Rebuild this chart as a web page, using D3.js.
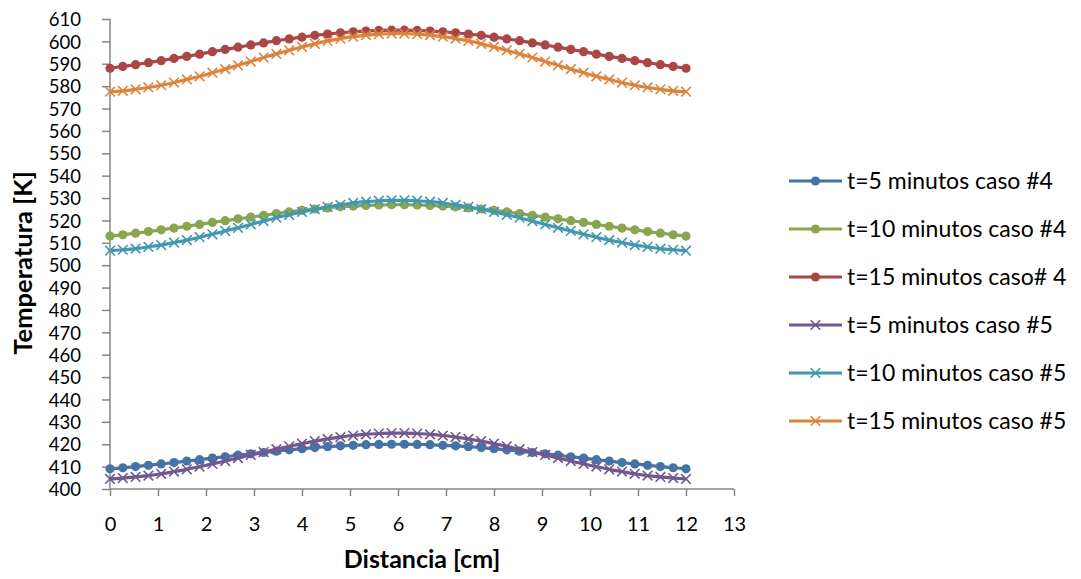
<!DOCTYPE html>
<html><head><meta charset="utf-8">
<script src="https://cdn.jsdelivr.net/npm/d3@7/dist/d3.min.js"></script>
<style>body{margin:0;background:#fff}svg{display:block}text{font-family:Lato,"Open Sans",sans-serif;fill:#000}</style>
</head><body><svg id="c" width="1081" height="579"></svg>
<script>
const nPoints = 46;
const xValues = d3.range(nPoints).map(i => i * 12 / 45);
const xTicks = [0,1,2,3,4,5,6,7,8,9,10,11,12,13];
const yTicks = d3.range(400, 611, 10);
const seriesNames = ["t=5 minutos caso #4","t=10 minutos caso #4","t=15 minutos caso# 4","t=5 minutos caso #5","t=10 minutos caso #5","t=15 minutos caso #5"];
const t5c4 = [409.0,409.5,410.0,410.6,411.2,411.8,412.5,413.1,413.8,414.4,415.1,415.7,416.3,416.9,417.5,418.0,418.5,418.9,419.3,419.5,419.8,419.9,420.0,
              420.0,419.9,419.8,419.5,419.3,418.9,418.5,418.0,417.5,416.9,416.3,415.7,415.1,414.4,413.8,413.1,412.5,411.8,411.2,410.6,410.0,409.5,409.0];
const t10c4 = [513.0,513.6,514.3,515.0,515.8,516.6,517.4,518.2,519.1,519.9,520.7,521.5,522.3,523.1,523.8,524.5,525.1,525.6,526.1,526.4,526.7,526.9,527.0,
               527.0,526.9,526.7,526.4,526.1,525.6,525.1,524.5,523.8,523.1,522.3,521.5,520.7,519.9,519.1,518.2,517.4,516.6,515.8,515.0,514.3,513.6,513.0];
const t15c4 = [588.0,588.8,589.6,590.5,591.4,592.4,593.3,594.3,595.4,596.4,597.4,598.4,599.3,600.3,601.1,601.9,602.7,603.3,603.8,604.3,604.6,604.9,605.0,
               605.0,604.9,604.6,604.3,603.8,603.3,602.7,601.9,601.1,600.3,599.3,598.4,597.4,596.4,595.4,594.3,593.3,592.4,591.4,590.5,589.6,588.8,588.0];
const t5c5 = [404.5,404.9,405.4,406.0,406.8,407.8,408.8,410.0,411.2,412.5,413.8,415.2,416.5,417.8,419.1,420.3,421.4,422.4,423.2,423.9,424.4,424.8,425.0,
              425.0,424.8,424.4,423.9,423.2,422.4,421.4,420.3,419.1,417.8,416.5,415.2,413.8,412.5,411.2,410.0,408.8,407.8,406.8,406.0,405.4,404.9,404.5];
const t10c5 = [506.5,506.9,507.4,508.2,509.0,510.1,511.2,512.5,513.8,515.3,516.7,518.2,519.7,521.2,522.5,523.8,525.0,526.1,527.0,527.8,528.4,528.8,529.0,
               529.0,528.8,528.4,527.8,527.0,526.1,525.0,523.8,522.5,521.2,519.7,518.2,516.7,515.3,513.8,512.5,511.2,510.1,509.0,508.2,507.4,506.9,506.5];
const t15c5 = [577.5,577.9,578.6,579.4,580.4,581.6,583.0,584.4,586.0,587.6,589.3,591.0,592.8,594.4,596.0,597.5,598.9,600.2,601.2,602.1,602.8,603.2,603.5,
               603.5,603.2,602.8,602.1,601.2,600.2,598.9,597.5,596.0,594.4,592.8,591.0,589.3,587.6,586.0,584.4,583.0,581.6,580.4,579.4,578.6,577.9,577.5];

const colors = ["#4572A7","#89A54E","#AA4643","#71588F","#4198AF","#DB843D"];
const markers = ["circle","circle","circle","x","x","x"];
const seriesData = [t5c4, t10c4, t15c4, t5c5, t10c5, t15c5];

const svg = d3.select("#c");
const x = d3.scaleLinear().domain([0,13]).range([110,734]);
const y = d3.scaleLinear().domain([400,610]).range([489,19]);
const axisColor = "#868686";
const FONT = "Lato, 'Open Sans', sans-serif";

// Y axis
const gy = svg.append("g").attr("transform","translate(110,0)")
  .call(d3.axisLeft(y).tickValues(yTicks).tickSize(8).tickPadding(21).tickFormat(d3.format("d")));
gy.selectAll("path,line").attr("stroke",axisColor).attr("stroke-width",1.5);
gy.select(".domain").attr("d","M0,19V489");
gy.selectAll("text").style("font-size","18.5px").style("font-family",FONT).attr("fill","#000").attr("dy","0.36em");

// X axis
const gx = svg.append("g").attr("transform","translate(0,489)")
  .call(d3.axisBottom(x).tickValues(xTicks).tickSize(7).tickPadding(9).tickFormat(d3.format("d")));
gx.selectAll("path,line").attr("stroke",axisColor).attr("stroke-width",1.5);
gx.select(".domain").attr("d","M110,0H734");
gx.selectAll("text").style("font-size","20px").style("font-family",FONT).attr("fill","#000")
  .attr("y",42).attr("dy",0);

// Titles
svg.append("text").attr("x",422).attr("y",568).attr("text-anchor","middle")
  .style("font-size","25px").style("font-weight","bold").text("Distancia [cm]");
svg.append("text").attr("transform","translate(32,263) rotate(-90)").attr("text-anchor","middle")
  .style("font-size","25.5px").style("font-weight","bold").text("Temperatura [K]");

const line = d3.line().x((d,i)=>x(xValues[i])).y(d=>y(d)).curve(d3.curveMonotoneX);

function drawMarker(g, type, cx, cy, color) {
  if (type === "circle") {
    g.append("circle").attr("cx",cx).attr("cy",cy).attr("r",4.6).attr("fill",color);
  } else {
    const s = 4.8;
    g.append("path").attr("d",`M${cx-s},${cy-s}L${cx+s},${cy+s}M${cx-s},${cy+s}L${cx+s},${cy-s}`)
      .attr("stroke",color).attr("stroke-width",1.6).attr("fill","none");
  }
}

seriesData.forEach((vals, k) => {
  const g = svg.append("g");
  g.append("path").datum(vals).attr("d",line).attr("fill","none")
    .attr("stroke",colors[k]).attr("stroke-width",3.2).attr("stroke-linejoin","round");
  vals.forEach((v,i) => drawMarker(g, markers[k], x(xValues[i]), y(v), colors[k]));
});

// Legend
const legY = [181,229,277,325,373,421];
seriesNames.forEach((name,k) => {
  const g = svg.append("g");
  g.append("line").attr("x1",789).attr("x2",842).attr("y1",legY[k]).attr("y2",legY[k])
    .attr("stroke",colors[k]).attr("stroke-width",3.2);
  drawMarker(g, markers[k], 815.5, legY[k], colors[k]);
  g.append("text").attr("x",847).attr("y",legY[k]+8).style("font-size","23px").text(name);
});
</script></body></html>
